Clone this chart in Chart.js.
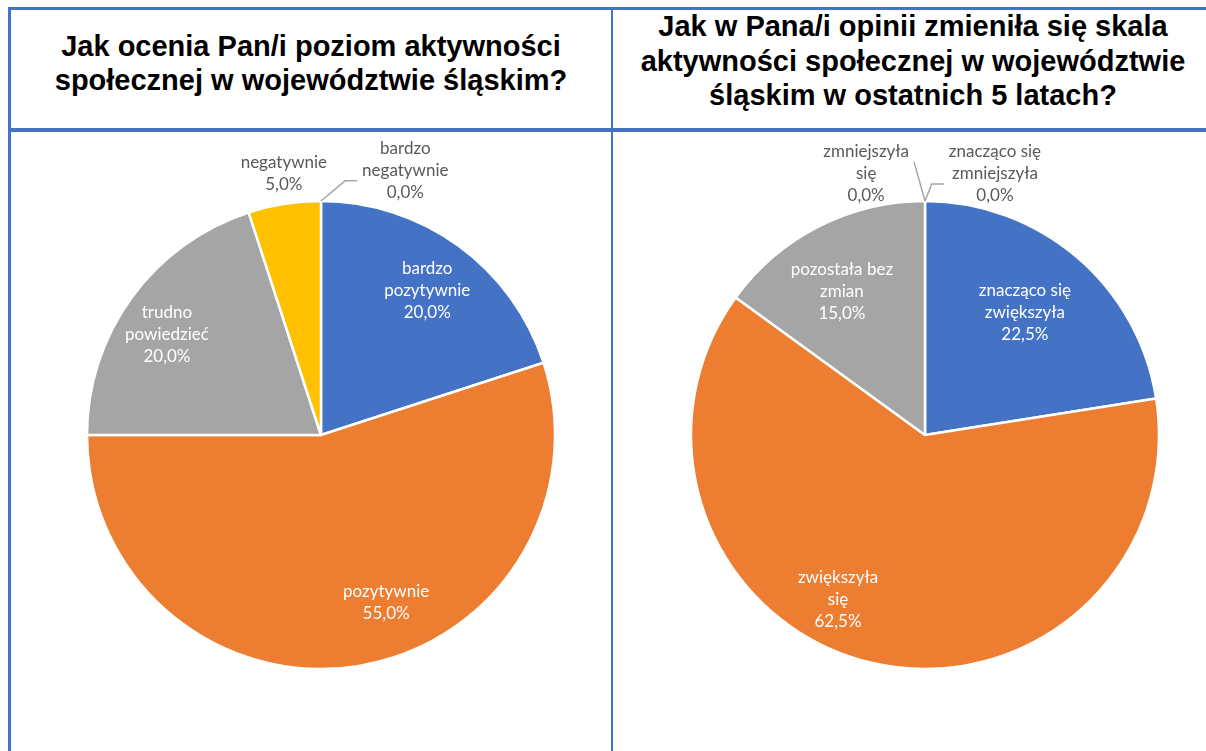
<!DOCTYPE html>
<html>
<head>
<meta charset="utf-8">
<script src="https://cdn.jsdelivr.net/npm/chart.js@4.4.1/dist/chart.umd.min.js"></script>
<style>
  html, body { margin: 0; padding: 0; background: #fff; }
  body { width: 1206px; height: 751px; position: relative; overflow: hidden; }
  .line { position: absolute; background: #4472C4; }
  .title { position: absolute; font-family: "Liberation Sans", Arial, sans-serif; font-weight: bold;
           font-size: 29px; line-height: 34px; color: #000; text-align: center; }
  canvas { position: absolute; }
</style>
</head>
<body>
<div class="line" style="left:8px; top:7px; width:1198px; height:3px;"></div>
<div class="line" style="left:8px; top:128px; width:1198px; height:4px;"></div>
<div class="line" style="left:8px; top:7px; width:3px; height:744px;"></div>
<div class="line" style="left:611px; top:7px; width:2px; height:744px;"></div>

<div class="title" id="t1" style="left:11px; top:29px; width:600px;"></div>
<div class="title" id="t2" style="left:613px; top:9px; width:600px; line-height:34.5px;"></div>

<canvas id="c1" width="600" height="619" style="left:11px; top:132px;"></canvas>
<canvas id="c2" width="592" height="619" style="left:614px; top:132px;"></canvas>

<script>
// ---- data ----
const title1 = ["Jak ocenia Pan/i poziom aktywności", "społecznej w województwie śląskim?"];
const title2 = ["Jak w Pana/i opinii zmieniła się skala", "aktywności społecznej w województwie", "śląskim w ostatnich 5 latach?"];

const categories1 = ["bardzo pozytywnie", "pozytywnie", "trudno powiedzieć", "negatywnie", "bardzo negatywnie"];
const labelLines1 = [["bardzo", "pozytywnie"], ["pozytywnie"], ["trudno", "powiedzieć"], ["negatywnie"], ["bardzo", "negatywnie"]];
const values1 = [20.0, 55.0, 20.0, 5.0, 0.0];

const categories2 = ["znacząco się zwiększyła", "zwiększyła się", "pozostała bez zmian", "zmniejszyła się", "znacząco się zmniejszyła"];
const labelLines2 = [["znacząco się", "zwiększyła"], ["zwiększyła", "się"], ["pozostała bez", "zmian"], ["zmniejszyła", "się"], ["znacząco się", "zmniejszyła"]];
const values2 = [22.5, 62.5, 15.0, 0.0, 0.0];

// ---- styles / placement (not data) ----
const colors = ["#4472C4", "#ED7D31", "#A5A5A5", "#FFC000", "#5B9BD5"];
// dAngle: degrees from slice mid-angle; rFrac: fraction of radius; inside: white text; leader: 'right' | 'left' | null
const place1 = [
  { dAngle: 0.4, rFrac: 0.765, inside: true },
  { dAngle: -12.2, rFrac: 0.77, inside: true },
  { dAngle: -3, rFrac: 0.785, inside: true },
  { dAngle: 0.9, rFrac: 1.127, inside: false },
  { dAngle: 17.7, rFrac: 1.185, inside: false, leader: "right" }
];
const place2 = [
  { dAngle: -1.2, rFrac: 0.674, inside: true },
  { dAngle: 14.3, rFrac: 0.797, inside: true },
  { dAngle: -3, rFrac: 0.71, inside: true },
  { dAngle: -12.7, rFrac: 1.144, inside: false, leader: "left" },
  { dAngle: 15.0, rFrac: 1.155, inside: false, leader: "right" }
];

document.getElementById("t1").innerHTML = title1.join("<br>");
document.getElementById("t2").innerHTML = title2.join("<br>");

function fmtPct(v) { return v.toFixed(1).replace(".", ",") + "%"; }

const labelPlugin = {
  id: "pieLabels",
  afterDatasetsDraw(chart, args, opts) {
    const ctx = chart.ctx;
    const meta = chart.getDatasetMeta(0);
    const values = chart.data.datasets[0].data;
    ctx.save();
    ctx.font = "17px Lato, 'Open Sans', sans-serif";
    ctx.textAlign = "center";
    ctx.textBaseline = "middle";
    const lh = 22;
    meta.data.forEach((arc, i) => {
      const p = opts.place[i];
      const mid = (arc.startAngle + arc.endAngle) / 2;
      const ang = mid + p.dAngle * Math.PI / 180;
      const r = arc.outerRadius * p.rFrac;
      const cx = arc.x + Math.cos(ang) * r;
      const cy = arc.y + Math.sin(ang) * r;
      const lines = opts.lines[i].concat([fmtPct(values[i])]);
      let maxW = 0;
      lines.forEach(t => { maxW = Math.max(maxW, ctx.measureText(t).width); });
      const top = cy - (lines.length - 1) * lh / 2;
      ctx.fillStyle = p.inside ? "#FFFFFF" : "#595959";
      lines.forEach((t, k) => ctx.fillText(t, cx, top + k * lh));
      if (p.leader) {
        const ex = arc.x + Math.cos(mid) * arc.outerRadius;
        const ey = arc.y + Math.sin(mid) * arc.outerRadius;
        ctx.strokeStyle = "#A6A6A6";
        ctx.lineWidth = 1.5;
        ctx.beginPath();
        ctx.moveTo(ex, ey);
        if (p.leader === "right") {
          const x3 = cx - maxW / 2 - 5, y3 = cy + 10;
          ctx.lineTo(x3 - 12, y3);
          ctx.lineTo(x3, y3);
        } else {
          ctx.lineTo(cx + maxW / 2 + 5, cy - 12);
        }
        ctx.stroke();
      }
    });
    ctx.restore();
  }
};

function makePie(id, cats, vals, lines, place, padding) {
  new Chart(document.getElementById(id), {
    type: "pie",
    data: {
      labels: cats,
      datasets: [{
        data: vals,
        backgroundColor: colors,
        borderColor: "#FFFFFF",
        borderWidth: 2.5,
        radius: 234
      }]
    },
    options: {
      responsive: false,
      devicePixelRatio: 1,
      animation: false,
      layout: { padding: padding },
      plugins: {
        legend: { display: false },
        tooltip: { enabled: false },
        pieLabels: { lines: lines, place: place }
      }
    },
    plugins: [labelPlugin]
  });
}

makePie("c1", categories1, values1, labelLines1, place1, { left: 76, right: 56, top: 69, bottom: 82 });
makePie("c2", categories2, values2, labelLines2, place2, { left: 77, right: 47, top: 69, bottom: 82 });
</script>
</body>
</html>
